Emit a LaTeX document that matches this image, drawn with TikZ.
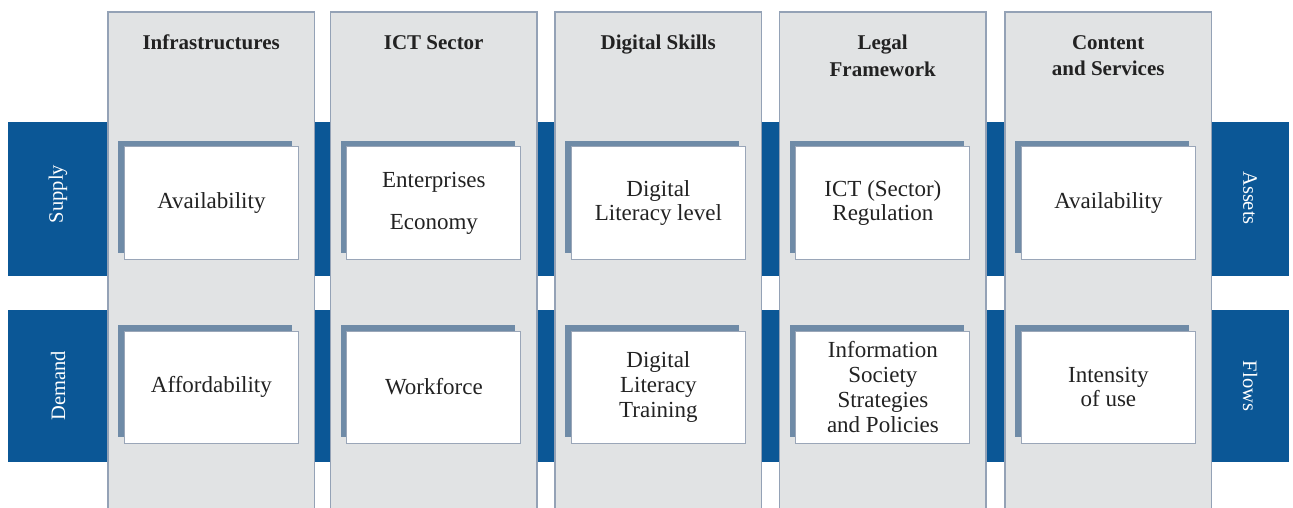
\documentclass[tikz,border=0pt]{standalone}
\usepackage{fontspec}
\setmainfont{Liberation Serif}
\usetikzlibrary{shadows}
\definecolor{bandblue}{HTML}{0B5796}
\definecolor{colgrey}{HTML}{E1E3E4}
\definecolor{colline}{HTML}{94A2B6}
\definecolor{shadowc}{HTML}{6F8BA7}
\definecolor{boxline}{HTML}{9AA6B8}
\definecolor{txt}{HTML}{222222}
\tikzset{
  band/.style={fill=bandblue, draw=none},
  colbox/.style={fill=colgrey, draw=none, minimum width=206pt, minimum height=496pt, anchor=north west, inner sep=0pt},
  colborder/.style={draw=colline, line width=1.6pt},
  header/.style={font=\fontsize{21}{26.5}\selectfont\bfseries, text=txt, align=center, anchor=north, inner sep=0pt},
  cell/.style={fill=white, draw=boxline, line width=1pt, minimum width=174pt, minimum height=112pt, align=center, inner sep=2pt,
    font=\fontsize{23}{24.8}\selectfont, text=txt,
    general shadow={fill=shadowc, shadow xshift=-6pt, shadow yshift=6pt}},
  side/.style={font=\fontsize{20.5}{24}\selectfont, text=white, inner sep=0pt}
}
\begin{document}
\begin{tikzpicture}[x=1pt,y=-1pt]
\useasboundingbox (0,0) rectangle (1293,508);
\fill[white] (0,0) rectangle (1293,508);
% blue bands
\fill[band] (8,122) rectangle (1289,276);
\fill[band] (8,310) rectangle (1289,462);
% columns
\foreach \i/\x in {1/108,2/330.5,3/555,4/779.5,5/1005}{
  \node[colbox] (col\i) at (\x,12) {};
  \draw[colborder] (col\i.south west) -- (col\i.north west) -- (col\i.north east) -- (col\i.south east);
}
% headers
\node[header] (h1) at ([yshift=-23pt]col1.north) {Infrastructures};
\node[header] (h2) at ([yshift=-23pt]col2.north) {ICT Sector};
\node[header] (h3) at ([yshift=-23pt]col3.north) {Digital Skills};
\node[header] (h4) at ([yshift=-23pt]col4.north) {Legal\\Framework};
\node[header] (h5) at ([yshift=-23pt]col5.north) {Content\\and Services};
% supply row
\node[cell] (s1) at ([xshift=-103pt]col1.north east |- 0,203) {Availability};
\node[cell] (s2) at ([xshift=-103pt]col2.north east |- 0,203) {Enterprises\\[17pt]Economy};
\node[cell] (s3) at ([xshift=-103pt]col3.north east |- 0,203) {Digital\\Literacy level};
\node[cell] (s4) at ([xshift=-103pt]col4.north east |- 0,203) {ICT (Sector)\\Regulation};
\node[cell] (s5) at ([xshift=-103pt]col5.north east |- 0,203) {Availability};
% demand row
\node[cell] (d1) at ([xshift=-103pt]col1.north east |- 0,387) {Affordability};
\node[cell] (d2) at ([xshift=-103pt]col2.north east |- 0,387) {Workforce};
\node[cell] (d3) at ([xshift=-103pt]col3.north east |- 0,387) {Digital\\Literacy\\Training};
\node[cell] (d4) at ([xshift=-103pt]col4.north east |- 0,387) {Information\\Society\\Strategies\\and Policies};
\node[cell] (d5) at ([xshift=-103pt]col5.north east |- 0,387) {Intensity\\of use};
% side labels
\node[side, rotate=90] (supply) at (58,194) {Supply};
\node[side, rotate=90] (demand) at (58,386) {Demand};
\node[side, rotate=-90] (assets) at (1250,198) {Assets};
\node[side, rotate=-90] (flows) at (1250,386) {Flows};
\end{tikzpicture}
\end{document}
